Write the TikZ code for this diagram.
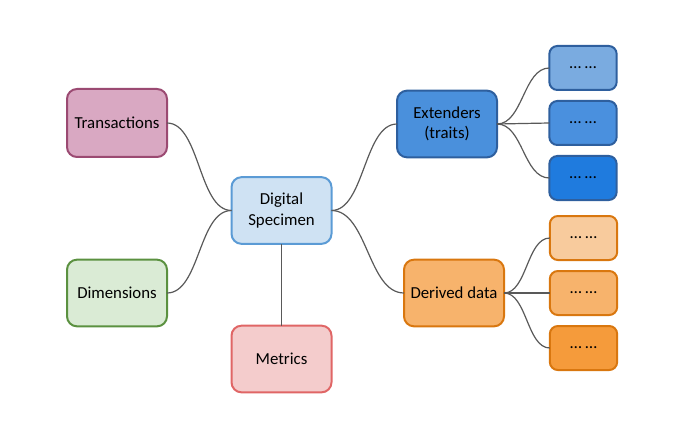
\documentclass[tikz,border=0pt]{standalone}
\usepackage{fontspec}
\setmainfont{Carlito}
\begin{document}
\begin{tikzpicture}[x=0.75pt,y=-0.75pt,
  box/.style={draw, rounded corners=7.5pt, line width=1.5pt, inner sep=0pt, outer sep=0pt,
    minimum width=75pt, minimum height=50pt, align=center, font=\fontsize{12.6}{15.3}\selectfont, text=black},
  small/.style={box, minimum width=50.5pt, minimum height=33pt, rounded corners=6pt},
  link/.style={draw=black!65, line width=0.9pt}]
\useasboundingbox (0,0) rectangle (680,438);
\definecolor{trF}{HTML}{D9A8C2}\definecolor{trD}{HTML}{9B4A72}
\definecolor{dmF}{HTML}{DAEBD5}\definecolor{dmD}{HTML}{5B9140}
\definecolor{dsF}{HTML}{CFE2F3}\definecolor{dsD}{HTML}{5B9BD5}
\definecolor{mtF}{HTML}{F4CCCC}\definecolor{mtD}{HTML}{E06666}
\definecolor{exF}{HTML}{4A90DC}\definecolor{exD}{HTML}{2E5F9E}
\definecolor{b1F}{HTML}{7AABE0}\definecolor{b2F}{HTML}{4A90DE}\definecolor{b3F}{HTML}{1F7BDE}
\definecolor{ddF}{HTML}{F7B36C}\definecolor{ddD}{HTML}{D9770F}
\definecolor{o1F}{HTML}{F8CB9D}\definecolor{o2F}{HTML}{F7B36C}\definecolor{o3F}{HTML}{F59B3B}

\node[box, fill=trF, draw=trD, minimum height=51pt] (tr) at (117,123) {Transactions};
\node[box, fill=dmF, draw=dmD] (dm) at (117,293) {Dimensions};
\node[box, fill=dsF, draw=dsD] (ds) at (281.5,210.5) {Digital\\Specimen};
\node[box, fill=mtF, draw=mtD] (mt) at (281.5,359) {Metrics};
\node[box, fill=exF, draw=exD] (ex) at (447,124) {Extenders\\(traits)};
\node[box, fill=ddF, draw=ddD] (dd) at (454,293) {Derived data};

\node[small, fill=b1F, draw=exD] (b1) at (583,68) {… …};
\node[small, fill=b2F, draw=exD] (b2) at (583,123) {… …};
\node[small, fill=b3F, draw=exD] (b3) at (583,178) {… …};
\node[small, fill=o1F, draw=ddD] (o1) at (583.5,238) {… …};
\node[small, fill=o2F, draw=ddD] (o2) at (583.5,293) {… …};
\node[small, fill=o3F, draw=ddD] (o3) at (583.5,348) {… …};

\begin{scope}[every path/.style={link}]
\draw (tr.east) .. controls +(33,0) and +(-33,0) .. (ds.west);
\draw (dm.east) .. controls +(33,0) and +(-33,0) .. (ds.west);
\draw (ds.south) -- (mt.north);
\draw (ds.east) .. controls +(33,0) and +(-33,0) .. (ex.west);
\draw (ds.east) .. controls +(36,0) and +(-36,0) .. (dd.west);
\draw (ex.east) .. controls +(26,0) and +(-26,0) .. (b1.west);
\draw (ex.east) -- (b2.west);
\draw (ex.east) .. controls +(26,0) and +(-26,0) .. (b3.west);
\draw (dd.east) .. controls +(23,0) and +(-23,0) .. (o1.west);
\draw (dd.east) -- (o2.west);
\draw (dd.east) .. controls +(23,0) and +(-23,0) .. (o3.west);
\end{scope}
\end{tikzpicture}
\end{document}
